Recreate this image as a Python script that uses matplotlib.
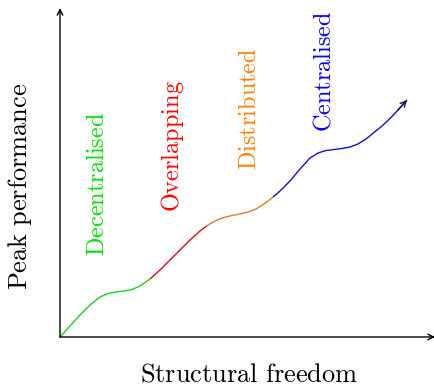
import matplotlib
matplotlib.use("Agg")
import matplotlib.pyplot as plt
import numpy as np

plt.rcParams['mathtext.fontset'] = 'cm'

# curve (units: px from origin)
curve_x = [0, 10, 20, 30, 40, 48, 56, 64, 72, 80, 90, 100, 110, 120, 130, 140, 148,
           156, 164, 172, 180, 188, 196, 204, 212, 220, 230, 240, 250, 258, 266, 274,
           282, 290, 298, 306, 314, 322, 330, 338, 347]
curve_y = [0, 11, 22, 32, 40, 43.5, 45, 46, 47.5, 51, 58, 67, 77, 87, 97, 106, 112,
           116.5, 119.5, 121.5, 123, 125, 128, 133, 139, 146, 156, 168, 179, 184, 186.5, 187.5,
           188.5, 190, 193, 198, 204.5, 211, 218.5, 227, 237]
seg_bounds = [0, 90, 147, 213, 347]
seg_names = ['Decentralised', 'Overlapping', 'Distributed', 'Centralised']
line_colors = ['#22cc22', '#cc1111', '#d98020', '#1010cc']
text_colors = ['#00e000', '#ff0000', '#ff8000', '#0000ff']
label_pos = [(37.5, 153), (113, 191), (189, 228), (264, 265.5)]
xlabel = 'Structural freedom'
ylabel = 'Peak performance'

fig = plt.figure(figsize=(4.35, 3.86), dpi=100)
ax = fig.add_axes([60/435, 49/386, 375/435, 329/386])
ax.set_xlim(0, 375)
ax.set_ylim(0, 329)
ax.axis('off')

cx = np.array(curve_x, float)
cy = np.array(curve_y, float)
for i in range(4):
    a, b = seg_bounds[i], seg_bounds[i+1]
    m = (cx > a) & (cx < b)
    xs = [a] + list(cx[m]) + [b]
    ys = [np.interp(a, cx, cy)] + list(cy[m]) + [np.interp(b, cx, cy)]
    ax.plot(xs, ys, color=line_colors[i], lw=1.0, solid_capstyle='butt',
            solid_joinstyle='round')

ax.annotate('', xy=(cx[-1], cy[-1]), xytext=(cx[-2], cy[-2]),
            arrowprops=dict(arrowstyle='->', color='#101050', lw=1.0, shrinkA=0, shrinkB=0))

# axes arrows
ax.annotate('', xy=(375, 0), xytext=(0, 0),
            arrowprops=dict(arrowstyle='->', color='black', lw=1.0, shrinkA=0, shrinkB=0))
ax.annotate('', xy=(0, 329), xytext=(0, 0),
            arrowprops=dict(arrowstyle='->', color='black', lw=1.0, shrinkA=0, shrinkB=0))

for (x, y), name, c in zip(label_pos, seg_names, text_colors):
    ax.text(x, y, r'$\mathrm{%s}$' % name, rotation=90, color=c, fontsize=17.5,
            ha='center', va='center')

fig.text(249/435, 1 - 374/386, r'$\mathrm{%s}$' % xlabel.replace(' ', r'\ '), fontsize=19,
         ha='center', va='center')
fig.text(20/435, 1 - 186/386, r'$\mathrm{%s}$' % ylabel.replace(' ', r'\ '), fontsize=19,
         ha='center', va='center', rotation=90)

fig.savefig('out.png', dpi=100)
